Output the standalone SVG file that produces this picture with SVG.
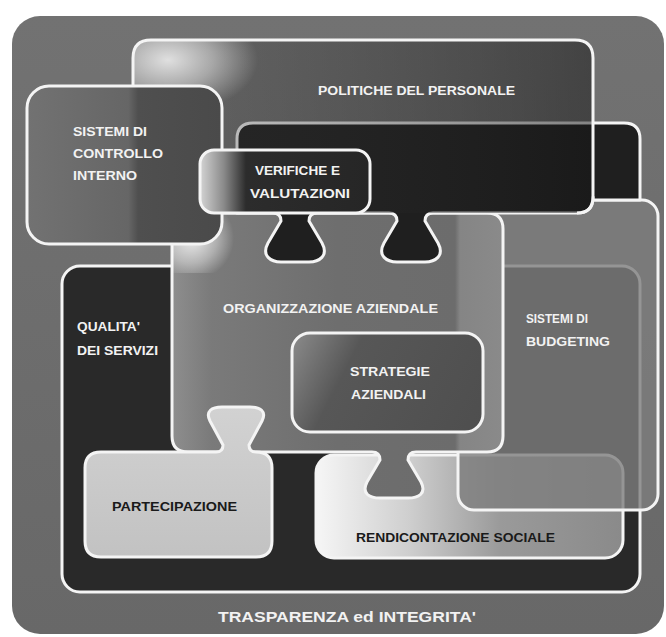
<svg xmlns="http://www.w3.org/2000/svg" width="666" height="637" viewBox="0 0 666 637">
<style>
.box{stroke:#f4f4f4;stroke-width:3;stroke-linejoin:round}
.nofill{fill:none}
.t{font-family:"Liberation Sans",Arial,sans-serif;font-weight:bold;font-size:12px;fill:#f2f2f2}
.d{fill:#1a1a1a}
.big{font-size:15px}
</style>
<defs>
<linearGradient id="gPol" gradientUnits="userSpaceOnUse" x1="133" y1="0" x2="593" y2="0">
<stop offset="0" stop-color="#3a3a3a" stop-opacity="0.25"/>
<stop offset="0.3" stop-color="#303030" stop-opacity="0.32"/>
<stop offset="1" stop-color="#151515" stop-opacity="0.5"/>
</linearGradient>
<radialGradient id="rPol" gradientUnits="userSpaceOnUse" cx="168" cy="60" r="90" gradientTransform="translate(168 60) scale(1 0.6) translate(-168 -60)">
<stop offset="0" stop-color="#ffffff" stop-opacity="0.8"/>
<stop offset="0.5" stop-color="#ffffff" stop-opacity="0.45"/>
<stop offset="1" stop-color="#ffffff" stop-opacity="0"/>
</radialGradient>
<linearGradient id="gCtl" gradientUnits="userSpaceOnUse" x1="27" y1="0" x2="222" y2="0">
<stop offset="0" stop-color="#727272"/>
<stop offset="0.52" stop-color="#666666"/>
<stop offset="0.57" stop-color="#4f4f4f"/>
<stop offset="1" stop-color="#4a4a4a"/>
</linearGradient>
<linearGradient id="gVer" gradientUnits="userSpaceOnUse" x1="200" y1="0" x2="370" y2="0">
<stop offset="0" stop-color="#d4d4d4"/>
<stop offset="0.14" stop-color="#8a8a8a"/>
<stop offset="0.27" stop-color="#2c2c2c"/>
<stop offset="1" stop-color="#262626"/>
</linearGradient>
<linearGradient id="gOrg" gradientUnits="userSpaceOnUse" x1="172" y1="0" x2="503" y2="0">
<stop offset="0" stop-color="#8e8e8e"/>
<stop offset="0.12" stop-color="#7a7a7a"/>
<stop offset="0.5" stop-color="#6e6e6e"/>
<stop offset="0.855" stop-color="#6c6c6c"/>
<stop offset="0.87" stop-color="#858585"/>
<stop offset="1" stop-color="#8a8a8a"/>
</linearGradient>
<radialGradient id="rOrg" gradientUnits="userSpaceOnUse" cx="192" cy="238" r="42">
<stop offset="0" stop-color="#ffffff" stop-opacity="0.85"/>
<stop offset="0.6" stop-color="#ffffff" stop-opacity="0.4"/>
<stop offset="1" stop-color="#ffffff" stop-opacity="0"/>
</radialGradient>
<linearGradient id="gStr" gradientUnits="userSpaceOnUse" x1="292" y1="333" x2="483" y2="432">
<stop offset="0" stop-color="#8c8c8c"/>
<stop offset="0.3" stop-color="#575757"/>
<stop offset="1" stop-color="#4e4e4e"/>
</linearGradient>
<linearGradient id="gRen" gradientUnits="userSpaceOnUse" x1="316" y1="0" x2="623" y2="0">
<stop offset="0" stop-color="#f6f6f6"/>
<stop offset="0.3" stop-color="#cfcfcf"/>
<stop offset="0.6" stop-color="#9a9a9a"/>
<stop offset="1" stop-color="#8a8a8a"/>
</linearGradient>
<linearGradient id="gPar" x1="0" y1="0" x2="0" y2="1">
<stop offset="0" stop-color="#d2d2d2"/>
<stop offset="1" stop-color="#c2c2c2"/>
</linearGradient>
<linearGradient id="gBg" x1="0" y1="0" x2="0" y2="1">
<stop offset="0" stop-color="#727272"/>
<stop offset="1" stop-color="#686868"/>
</linearGradient>
</defs>

<g id="trasparenza">
<rect x="12" y="16" width="652" height="618" rx="28" fill="url(#gBg)"/>
<text class="t big" x="218" y="622" textLength="258" lengthAdjust="spacingAndGlyphs">TRASPARENZA ed INTEGRITA'</text>
</g>

<g id="qualita">
<rect class="box" x="62" y="266" width="578" height="326" rx="18" fill="#292929"/>
<text class="t" x="77" y="331" textLength="63" lengthAdjust="spacingAndGlyphs">QUALITA'</text>
<text class="t" x="77" y="355" textLength="81" lengthAdjust="spacingAndGlyphs">DEI SERVIZI</text>
</g>

<g id="rendicontazione">
<rect class="box" x="316" y="455" width="307" height="103" rx="18" fill="url(#gRen)"/>
</g>

<g id="budgeting">
<rect class="box" x="458" y="200" width="200" height="310" rx="16" fill="#7d7d7d" fill-opacity="0.8"/>
<text class="t" x="526" y="323" textLength="62" lengthAdjust="spacingAndGlyphs">SISTEMI DI</text>
<text class="t" x="526" y="346" textLength="84" lengthAdjust="spacingAndGlyphs">BUDGETING</text>
</g>

<g id="rendicontazione-label">
<text class="t d" x="356" y="542" textLength="199" lengthAdjust="spacingAndGlyphs">RENDICONTAZIONE SOCIALE</text>
</g>

<g id="organizzazione">
<path class="box" fill="url(#gOrg)" d="M188,213 H487 Q503,213 503,229 V436 Q503,452 487,452 H416 Q408,452 408,460 L421,482 C427,494 418,498 408,498 L380,498 C370,498 361,494 367,482 L380,460 Q380,452 372,452 H188 Q172,452 172,436 V229 Q172,213 188,213 Z"/>
<rect x="172" y="213" width="70" height="60" fill="url(#rOrg)"/>
<text class="t" x="223" y="313" textLength="215" lengthAdjust="spacingAndGlyphs">ORGANIZZAZIONE AZIENDALE</text>
</g>

<g id="strategie">
<rect class="box" x="292" y="333" width="191" height="99" rx="18" fill="url(#gStr)"/>
<text class="t" x="350" y="376" textLength="80" lengthAdjust="spacingAndGlyphs">STRATEGIE</text>
<text class="t" x="351" y="399" textLength="75" lengthAdjust="spacingAndGlyphs">AZIENDALI</text>
</g>

<g id="partecipazione">
<path class="box" fill="url(#gPar)" d="M101,452 H216 Q223,452 223,445 L210,421 C205,411 212,407 222,407 L250,407 C260,407 267,411 262,421 L249,445 Q249,452 256,452 Q272,452 272,468 V541 Q272,557 256,557 H101 Q85,557 85,541 V468 Q85,452 101,452 Z"/>
<text class="t d" x="112" y="511" textLength="125" lengthAdjust="spacingAndGlyphs">PARTECIPAZIONE</text>
</g>

<g id="verifiche-area">
<path class="box" fill="#1f1f1f" d="M253,123 H624 Q640,123 640,139 V200 H593 V197 Q593,213 577,213 H433 Q425,213 425,221 L438,243 C445,256 435,262 425,262 L397,262 C387,262 377,256 384,243 L397,221 Q397,213 389,213 H317 Q309,213 309,221 L322,243 C329,256 319,262 309,262 L281,262 C271,262 261,256 268,243 L281,221 Q281,213 273,213 H237 V139 Q237,123 253,123 Z"/>
</g>

<g id="politiche">
<rect x="133" y="40" width="460" height="173" rx="18" fill="url(#gPol)"/>
<rect x="133" y="40" width="320" height="110" rx="18" fill="url(#rPol)"/>
<path class="box nofill" d="M577,213 Q593,213 593,197 V58 Q593,40 575,40 H151 Q133,40 133,58 V195 Q133,213 151,213"/>
<text class="t" x="318" y="95" textLength="197" lengthAdjust="spacingAndGlyphs">POLITICHE DEL PERSONALE</text>
</g>

<g id="controllo">
<rect class="box" x="27" y="86" width="195" height="158" rx="22" fill="url(#gCtl)"/>
<text class="t" x="73" y="136" textLength="74" lengthAdjust="spacingAndGlyphs">SISTEMI DI</text>
<text class="t" x="73" y="158" textLength="90" lengthAdjust="spacingAndGlyphs">CONTROLLO</text>
<text class="t" x="73" y="180" textLength="64" lengthAdjust="spacingAndGlyphs">INTERNO</text>
</g>

<g id="verifiche">
<rect class="box" x="200" y="150" width="170" height="63" rx="14" fill="url(#gVer)"/>
<text class="t" x="255" y="175" textLength="85" lengthAdjust="spacingAndGlyphs">VERIFICHE E</text>
<text class="t" x="250" y="198" textLength="100" lengthAdjust="spacingAndGlyphs">VALUTAZIONI</text>
</g>
</svg>
